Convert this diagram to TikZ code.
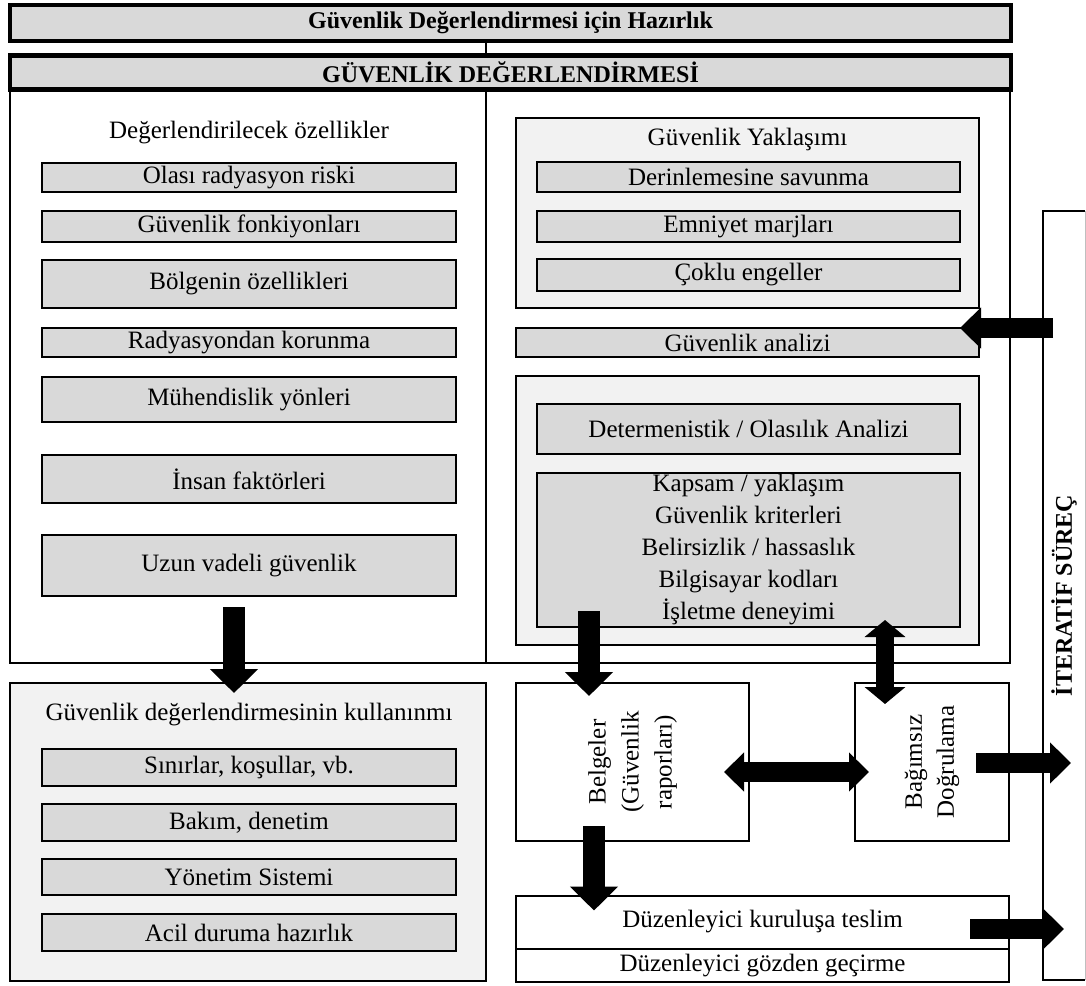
\documentclass[tikz,border=0pt]{standalone}
\usepackage{fontspec}
\setmainfont{Liberation Serif}
\usetikzlibrary{arrows.meta,calc}
\definecolor{boxgray}{RGB}{217,217,217}
\definecolor{panelgray}{RGB}{242,242,242}
\tikzset{
  base/.style={font=\fontsize{25}{30}\selectfont, inner sep=0pt, outer sep=0pt},
  titlebox/.style={base, draw, line width=4.5pt, fill=boxgray, font=\bfseries\fontsize{24}{28}\selectfont},
  framebox/.style={base, draw, line width=1.6pt},
  framelinestyle/.style={line width=1.6pt},
  panel/.style={base, draw, line width=2pt, fill=panelgray},
  graybox/.style={base, draw, line width=2.5pt, fill=boxgray},
  whitebox/.style={base, draw, line width=2pt, fill=white},
  txt/.style={base},
  downarrow/.style={line width=22pt, -{Triangle[length=24pt,width=47pt]}},
  sidearrow/.style={line width=20pt, -{Triangle[length=21pt,width=40pt]}},
  vdouble/.style={line width=18pt, {Triangle[length=17pt,width=40pt]}-{Triangle[length=17pt,width=40pt]}},
  hdouble/.style={line width=20pt, {Triangle[length=20pt,width=38pt]}-{Triangle[length=20pt,width=38pt]}},
}
\begin{document}
\begin{tikzpicture}[x=1pt,y=-1pt]
\useasboundingbox (0,0) rectangle (1086,985);

% main frame panels
\node[framebox, minimum width=476, minimum height=573] (lp) at (248,376.5) {};
\node[framebox, minimum width=524, minimum height=573] (rp) at (748,376.5) {};

% titles
\node[titlebox, minimum width=1001, minimum height=36] (prep) at (510.5,23) {Güvenlik Değerlendirmesi için Hazırlık};
\node[titlebox, minimum width=1001, minimum height=34] (sa) at (510.5,72.5) {GÜVENLİK DEĞERLENDİRMESİ};
\draw[framelinestyle] (prep.south -| lp.east) -- (sa.north -| lp.east);

% left column
\node[txt] (lt) at (249,133) {Değerlendirilecek özellikler};
\node[graybox, minimum width=414, minimum height=29] (r1) at (249,177.5) {Olası radyasyon riski};
\node[graybox, minimum width=414, minimum height=31] (r2) at (249,226.5) {Güvenlik fonkiyonları};
\node[graybox, minimum width=414, minimum height=48] (r3) at (249,284) {Bölgenin özellikleri};
\node[graybox, minimum width=414, minimum height=29] (r4) at (249,342.5) {Radyasyondan korunma};
\node[graybox, minimum width=414, minimum height=45] (r5) at (249,399.5) {Mühendislik yönleri};
\node[graybox, minimum width=414, minimum height=48] (r6) at (249,479) {İnsan faktörleri};
\node[graybox, minimum width=414, minimum height=61] (r7) at (249,565.5) {Uzun vadeli güvenlik};

% right column
\node[panel, minimum width=463, minimum height=190] (ya) at (747.5,213) {};
\node[txt] (yt) at (747.5,139) {Güvenlik Yaklaşımı};
\node[graybox, minimum width=423, minimum height=30] (d1) at (748.5,177) {Derinlemesine savunma};
\node[graybox, minimum width=423, minimum height=31] (d2) at (748.5,226.5) {Emniyet marjları};
\node[graybox, minimum width=423, minimum height=32] (d3) at (748.5,275) {Çoklu engeller};
\node[graybox, minimum width=463, minimum height=29] (gan) at (747.5,342.5) {Güvenlik analizi};
\node[panel, minimum width=463, minimum height=269] (an) at (747.5,510.5) {};
\node[graybox, minimum width=423, minimum height=50] (det) at (748.5,429) {Determenistik / Olasılık Analizi};
\node[graybox, minimum width=423, minimum height=154, align=center, font=\fontsize{25}{32}\selectfont] (kap) at (748.5,550)
  {Kapsam / yaklaşım\\Güvenlik kriterleri\\Belirsizlik / hassaslık\\Bilgisayar kodları\\İşletme deneyimi};

% lower left
\node[panel, minimum width=476, minimum height=298] (ul) at (248,832) {};
\node[txt] (ult) at (249,715) {Güvenlik değerlendirmesinin kullanınmı};
\node[graybox, minimum width=414, minimum height=37] (s1) at (249,767.5) {Sınırlar, koşullar, vb.};
\node[graybox, minimum width=414, minimum height=37] (s2) at (249,822.5) {Bakım, denetim};
\node[graybox, minimum width=414, minimum height=36] (s3) at (249,877) {Yönetim Sistemi};
\node[graybox, minimum width=414, minimum height=37] (s4) at (249,932.5) {Acil duruma hazırlık};

% lower right
\node[whitebox, minimum width=233, minimum height=158] (bel) at (632.5,762) {};
\node[txt, rotate=90, align=center, font=\fontsize{25}{33}\selectfont] (belt) at (bel.center) {Belgeler\\(Güvenlik\\raporları)};
\node[whitebox, minimum width=154, minimum height=158] (bag) at (932,762) {};
\node[txt, rotate=90, align=center, font=\fontsize{25}{32}\selectfont] (bagt) at (bag.center) {Bağımsız\\Doğrulama};
\node[whitebox, minimum width=493, minimum height=53] (tes) at (762.5,922) {Düzenleyici kuruluşa teslim};
\node[whitebox, minimum width=493, minimum height=33] (goz) at (762.5,965.5) {Düzenleyici gözden geçirme};

% iterative process
\node[base, fill=white, minimum width=42, minimum height=769] (it) at (1064,595.5) {};
\draw[line width=2pt] (it.north east) -- (it.north west) -- (it.south west) -- (it.south east);
\draw[line width=1pt, black!25] (it.north east) -- (it.south east);
\node[txt, rotate=90, font=\bfseries\fontsize{24}{28}\selectfont] (itt) at (it.center) {İTERATİF SÜREÇ};

% arrows
\draw[downarrow] ([shift={(-15,11)}]r7.south) -- ([shift={(-14,10)}]ul.north);
\draw[downarrow] ([shift={(-159.5,-16)}]kap.south) -- ([shift={(-43.5,13)}]bel.north);
\draw[vdouble] ([shift={(136.5,-7)}]kap.south) -- ([shift={(-47,21)}]bag.north);
\draw[hdouble] ([shift={(-25,10)}]bel.east) -- ([shift={(14,10)}]bag.west);
\draw[sidearrow] ([shift={(-33,1)}]bag.east) -- ([shift={(28,167.5)}]it.west);
\draw[sidearrow] ([shift={(10,-267.5)}]it.west) -- ([shift={(-19,-14.5)}]gan.east);
\draw[downarrow] ([shift={(-38.5,-15)}]bel.south) -- ([shift={(-168.5,15)}]tes.north);
\draw[sidearrow] ([shift={(-39,7)}]tes.east) -- ([shift={(21,333.5)}]it.west);
\end{tikzpicture}
\end{document}
